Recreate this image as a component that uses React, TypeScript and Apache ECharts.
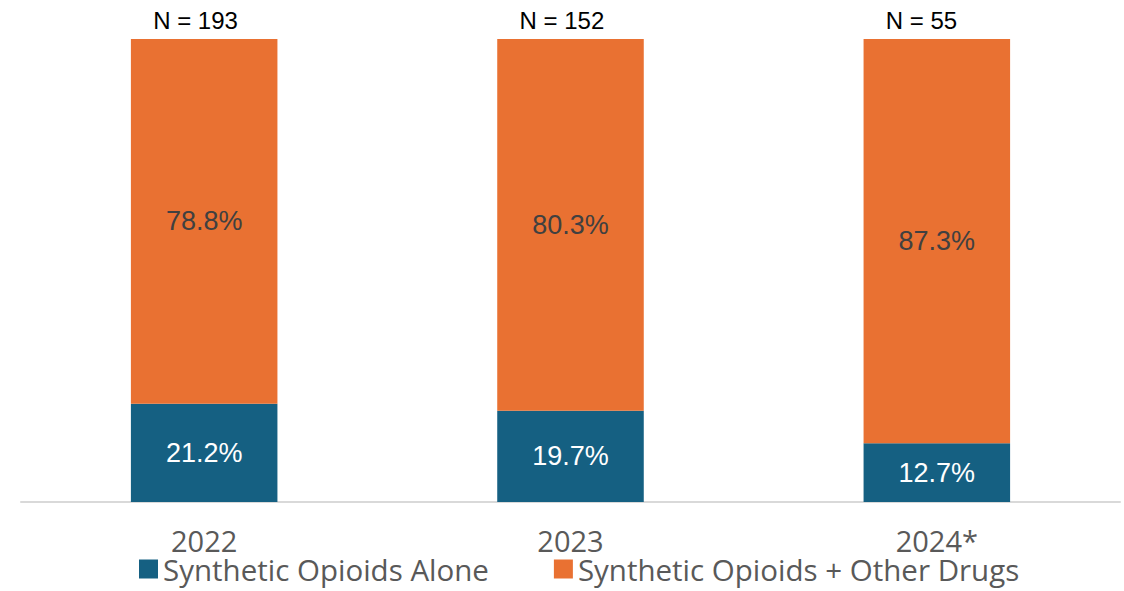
import React, { useEffect, useRef } from "react";
import * as echarts from "echarts";

const categories = ["2022", "2023", "2024*"];
const aloneValues = [21.2, 19.7, 12.7];
const otherDrugsValues = [78.8, 80.3, 87.3];
const nCounts = [193, 152, 55];
const seriesNames = ["Synthetic Opioids Alone", "Synthetic Opioids + Other Drugs"];

export default function App() {
  const ref = useRef<HTMLDivElement>(null);
  useEffect(() => {
    if (!ref.current) return;
    const chart = echarts.init(ref.current, undefined, { renderer: "svg" });
    chart.setOption({
      animation: false,
      backgroundColor: "#ffffff",
      grid: { left: 21, right: 4, top: 39, bottom: 89, containLabel: false },
      legend: {
        data: seriesNames,
        left: 134,
        top: 549,
        itemWidth: 19,
        itemHeight: 19,
        itemGap: 65,
        icon: "rect",
        textStyle: { fontFamily: "Open Sans", fontSize: 29.5, lineHeight: 24, color: "#595959" },
      },
      xAxis: {
        type: "category",
        data: categories,
        axisLine: { show: true, lineStyle: { color: "#D9D9D9", width: 2 } },
        axisTick: { show: false },
        axisLabel: { fontFamily: "Open Sans", fontSize: 29, lineHeight: 22, color: "#595959", margin: 27 },
      },
      yAxis: { type: "value", min: 0, max: 100, show: false, splitLine: { show: false } },
      series: [
        {
          name: seriesNames[0],
          type: "bar",
          stack: "total",
          barWidth: "40%",
          data: aloneValues,
          itemStyle: { color: "#156082" },
          label: {
            show: true,
            position: "inside",
            formatter: (p: any) => `${p.value.toFixed(1)}%`,
            fontFamily: "Liberation Sans",
            fontSize: 27,
            color: "#ffffff",
          },
        },
        {
          name: seriesNames[1],
          type: "bar",
          stack: "total",
          barWidth: "40%",
          data: otherDrugsValues,
          itemStyle: { color: "#E97132" },
          label: {
            show: true,
            position: "inside",
            formatter: (p: any) => `${p.value.toFixed(1)}%`,
            fontFamily: "Liberation Sans",
            fontSize: 27,
            color: "#404040",
          },
        },
        {
          name: "N",
          type: "bar",
          stack: "total",
          barWidth: "40%",
          data: nCounts.map(() => 0),
          itemStyle: { color: "transparent" },
          label: {
            show: true,
            position: "top",
            distance: 7,
            align: "left",
            offset: [-51, 0],
            formatter: (p: any) => `N = ${nCounts[p.dataIndex]}`,
            fontFamily: "Liberation Sans",
            fontSize: 24,
            color: "#000000",
          },
        },
      ],
    });
    return () => chart.dispose();
  }, []);
  return (
    <div
      ref={ref}
      style={{ position: "absolute", left: 0, top: 0, width: 1124, height: 591 }}
    />
  );
}
